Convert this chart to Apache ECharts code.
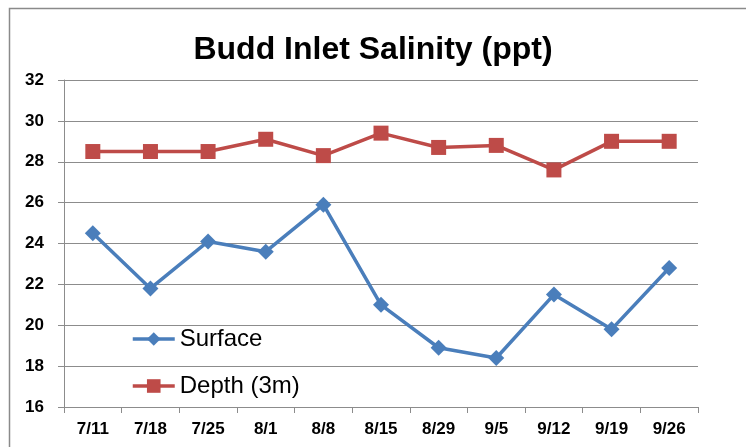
<!DOCTYPE html>
<html>
<head>
<meta charset="utf-8">
<script src="https://cdn.jsdelivr.net/npm/echarts@6/dist/echarts.min.js"></script>
<style>
    html, body {margin: 0; padding: 0; background: #fff;}
    #chart {width: 746px; height: 447px;}
</style>
</head>
<body>
<div id="chart"></div>
<script>
const dates = ['7/11', '7/18', '7/25', '8/1', '8/8', '8/15', '8/29', '9/5', '9/12', '9/19', '9/26'];
const surface = [24.5, 21.8, 24.1, 23.6, 25.9, 21.0, 18.9, 18.4, 21.5, 19.8, 22.8];
const depth = [28.5, 28.5, 28.5, 29.1, 28.3, 29.4, 28.7, 28.8, 27.6, 29.0, 29.0];
const y_min = 16;
const y_max = 32;
const y_step = 2;

const font = 'Liberation Sans, Arial, sans-serif';
const grey = '#8c8c8c';

let option = {
    animation: false,
    backgroundColor: '#fff',
    graphic: [{
        type: 'rect', z: -10,
        shape: {x: 9.5, y: 8.5, width: 800, height: 500},
        style: {fill: '#fff', stroke: '#8a8a8a', lineWidth: 1.5}
    }],
    title: {
        text: 'Budd Inlet Salinity (ppt)',
        left: 'center', top: 29,
        textStyle: {fontFamily: font, fontSize: 32, fontWeight: 'bold', color: '#000'}
    },
    legend: {
        orient: 'vertical', left: 126, top: 321,
        itemWidth: 42, itemHeight: 17, itemGap: 21,
        data: ['Surface', 'Depth (3m)'],
        lineStyle: {width: 3.5},
        textStyle: {fontFamily: font, fontSize: 24, lineHeight: 26, color: '#000'}
    },
    grid: {left: 64, right: 48, top: 80, bottom: 40},
    xAxis: {
        type: 'category', data: dates, boundaryGap: true,
        axisLine: {lineStyle: {color: grey, width: 1}},
        axisTick: {show: true, length: 6, lineStyle: {color: grey}},
        axisLabel: {fontFamily: font, fontSize: 17, fontWeight: 'bold', color: '#000', margin: 14}
    },
    yAxis: {
        type: 'value', min: y_min, max: y_max, interval: y_step,
        axisLine: {show: true, lineStyle: {color: grey, width: 1}},
        axisTick: {show: true, length: 6, lineStyle: {color: grey}},
        axisLabel: {fontFamily: font, fontSize: 17, fontWeight: 'bold', color: '#000', margin: 20},
        splitLine: {lineStyle: {color: grey, width: 1}}
    },
    series: [{
        name: 'Surface', type: 'line', data: surface,
        symbol: 'diamond', symbolSize: 16,
        lineStyle: {color: '#4a7ebb', width: 3.5},
        itemStyle: {color: '#4a7ebb'}
    }, {
        name: 'Depth (3m)', type: 'line', data: depth,
        symbol: 'rect', symbolSize: 15,
        lineStyle: {color: '#be4b48', width: 3.5},
        itemStyle: {color: '#be4b48'}
    }]
};

let my_chart = echarts.init(document.getElementById('chart'));
my_chart.setOption(option);
</script>
</body>
</html>
